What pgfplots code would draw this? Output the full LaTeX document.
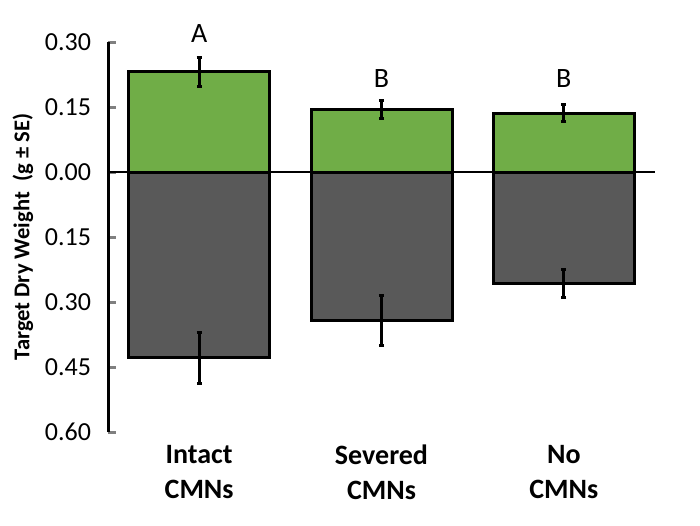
\documentclass[border=0pt]{standalone}
\usepackage{fontspec}
\setmainfont{Carlito}
\usepackage{pgfplots}
\pgfplotsset{compat=1.18}
\definecolor{bargreen}{HTML}{70AD47}
\definecolor{bargrey}{HTML}{595959}
\begin{document}
\begin{tikzpicture}
\begin{axis}[
  scale only axis,
  width=273.5pt, height=195pt,
  xmin=-0.5, xmax=2.5,
  ymin=-0.6, ymax=0.3,
  clip=false,
  axis y line*=left,
  axis x line*=bottom,
  x axis line style={draw=none},
  y axis line style={line width=1.5pt},
  xtick={0,1,2},
  xticklabels={Intact\\CMNs, Severed\\CMNs, No\\CMNs},
  xticklabel style={align=center, font=\fontsize{14}{17.5}\selectfont\bfseries, yshift=1pt},
  xtick style={draw=none},
  ytick={-0.6,-0.45,-0.3,-0.15,0,0.15,0.3},
  yticklabels={0.60,0.45,0.30,0.15,0.00,0.15,0.30},
  yticklabel style={font=\fontsize{13}{15}\selectfont, xshift=-5pt},
  ytick style={line width=1.5pt},
  tick align=inside,
  major tick length=4pt,
  /pgf/number format/assume math mode=true,
  ylabel={Target Dry Weight~~(g ± SE)},
  ylabel style={font=\fontsize{11.3}{13}\selectfont\bfseries, yshift=-1pt},
  ybar, bar width=70.5pt, bar shift=0pt,
]
\addplot[fill=bargreen, draw=black, line width=1.5pt,
  error bars/.cd, y dir=both, y explicit,
  error bar style={line width=1.5pt, black},
  error mark options={mark size=1.3pt, line width=1.5pt, black, rotate=90}]
  coordinates {(0,0.231) +- (0,0.034) (1,0.144) +- (0,0.021) (2,0.136) +- (0,0.020)};
\addplot[fill=bargrey, draw=black, line width=1.5pt,
  error bars/.cd, y dir=both, y explicit,
  error bar style={line width=1.5pt, black},
  error mark options={mark size=1.3pt, line width=1.5pt, black, rotate=90}]
  coordinates {(0,-0.429) +- (0,0.058) (1,-0.342) +- (0,0.058) (2,-0.257) +- (0,0.033)};
\addplot[sharp plot, black, line width=1pt, forget plot] coordinates {(-0.5,0) (2.5,0)};
\node[font=\fontsize{14}{16}\selectfont] at (axis cs:0,0.32) {A};
\node[font=\fontsize{14}{16}\selectfont] at (axis cs:1,0.216) {B};
\node[font=\fontsize{14}{16}\selectfont] at (axis cs:2,0.216) {B};
\end{axis}
\pgfresetboundingbox
\path[use as bounding box] ([shift={(-54pt,-46.5pt)}]current axis.south west) rectangle ++(350pt,262.5pt);
\end{tikzpicture}
\end{document}
